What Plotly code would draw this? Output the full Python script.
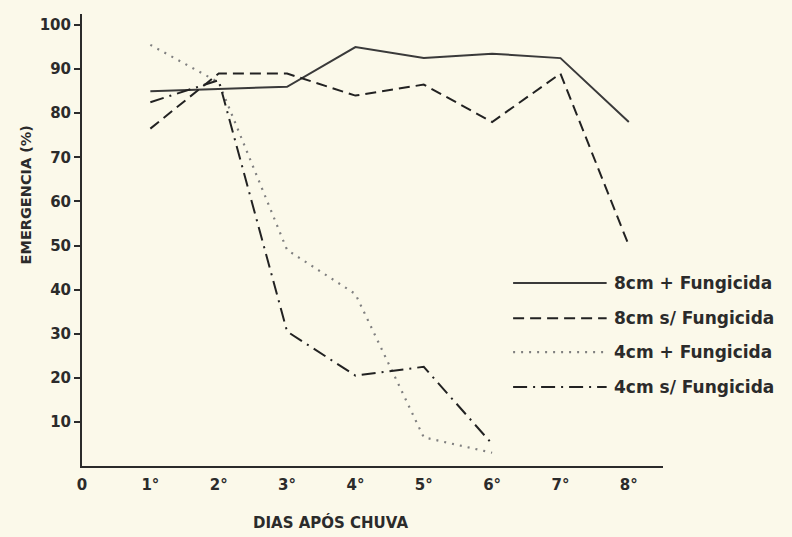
import plotly.graph_objects as go

# ---- data ----
days = [1, 2, 3, 4, 5, 6, 7, 8]
tick_vals = [0, 1, 2, 3, 4, 5, 6, 7, 8]
tick_text = ["0", "1°", "2°", "3°", "4°", "5°", "6°", "7°", "8°"]
y_ticks = [10, 20, 30, 40, 50, 60, 70, 80, 90, 100]

s8_com = [85, 85.5, 86, 95, 92.5, 93.5, 92.5, 78]      # 8cm + Fungicida
s8_sem = [76.5, 89, 89, 84, 86.5, 78, 89, 50]          # 8cm s/ Fungicida
s4_com = [95.5, 87, 49, 39, 6.5, 3]                    # 4cm + Fungicida
s4_sem = [82.5, 87.5, 30.5, 20.5, 22.5, 5]             # 4cm s/ Fungicida

names = ["8cm + Fungicida", "8cm s/ Fungicida", "4cm + Fungicida", "4cm s/ Fungicida"]

# ---- styling ----
BG = "#fbf9ea"
INK = "#2b2b2b"
FONT = "DejaVu Sans"
styles = [
    dict(color="#3a3a3a", width=2, dash="solid"),
    dict(color="#222222", width=2, dash="11px,6px"),
    dict(color="#808080", width=2.2, dash="2px,6px"),
    dict(color="#222222", width=2, dash="14px,6px,2px,6px"),
]
series = [s8_com, s8_sem, s4_com, s4_sem]

fig = go.Figure()
for vals, st, nm in zip(series, styles, names):
    fig.add_trace(go.Scatter(x=days[:len(vals)], y=vals, mode="lines",
                             line=st, name=nm, showlegend=False))

# hand-made legend (long line samples, as in the original)
leg_x0, leg_x1, leg_tx = 0.742, 0.903, 0.912
leg_y = [0.405, 0.327, 0.252, 0.175]
for st, nm, yy in zip(styles, names, leg_y):
    fig.add_shape(type="line", xref="paper", yref="paper",
                  x0=leg_x0, x1=leg_x1, y0=yy, y1=yy, line=st)
    fig.add_annotation(xref="paper", yref="paper", x=leg_tx, y=yy,
                       text=nm, showarrow=False, xanchor="left", yanchor="middle",
                       font=dict(family=FONT, size=17, color=INK, weight="bold"))

# axis titles
fig.add_annotation(xref="paper", yref="paper", x=0.428, y=-0.126,
                   text="DIAS APÓS CHUVA", showarrow=False, yanchor="middle",
                   font=dict(family=FONT, size=15, color=INK, weight="bold"))
fig.add_annotation(xref="paper", yref="paper", x=-0.097, y=0.6,
                   text="EMERGENCIA (%)", showarrow=False, textangle=-90,
                   xanchor="center", yanchor="middle",
                   font=dict(family=FONT, size=14.5, color=INK, weight="bold"))

fig.update_layout(
    width=792, height=537,
    margin=dict(l=82, r=129, t=14, b=71),
    paper_bgcolor=BG, plot_bgcolor=BG,
    font=dict(family=FONT, size=15, color=INK, weight="bold"),
    xaxis=dict(range=[0, 8.5], tickvals=tick_vals, ticktext=tick_text,
               showgrid=False, zeroline=False, showline=True,
               linecolor=INK, linewidth=2, ticks="", ticklabelstandoff=4),
    yaxis=dict(range=[0, 102.5], tickvals=y_ticks, showgrid=False,
               zeroline=False, showline=True, linecolor=INK, linewidth=2,
               ticks="outside", ticklen=6, tickwidth=2, tickcolor=INK,
               ticklabelstandoff=0),
)

fig.write_html("out.html", config={"displayModeBar": False},
               post_script="document.body.style.margin='0';document.body.style.background='%s';" % BG)
